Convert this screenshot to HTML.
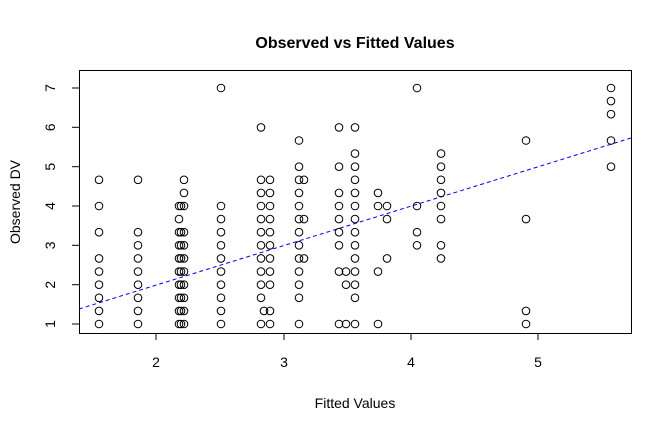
<!DOCTYPE html><html><head><style>body{margin:0;background:#fff}svg{display:block;font-family:"Liberation Sans",Arial,sans-serif}</style></head><body>
<svg id="s" width="672" height="432" xmlns="http://www.w3.org/2000/svg">
<text x="355" y="48" text-anchor="middle" font-size="16" font-weight="bold">Observed vs Fitted Values</text>
<rect x="79.5" y="70.5" width="552" height="263" fill="none" stroke="#000"/>
<g stroke="#000">
<line x1="156" y1="333" x2="156" y2="340"/><line x1="284" y1="333" x2="284" y2="340"/><line x1="411" y1="333" x2="411" y2="340"/><line x1="538" y1="333" x2="538" y2="340"/>
<line x1="72" y1="88" x2="79" y2="88"/><line x1="72" y1="127.3" x2="79" y2="127.3"/><line x1="72" y1="166.7" x2="79" y2="166.7"/><line x1="72" y1="206" x2="79" y2="206"/><line x1="72" y1="245.3" x2="79" y2="245.3"/><line x1="72" y1="284.7" x2="79" y2="284.7"/><line x1="72" y1="324" x2="79" y2="324"/>
</g>
<g font-size="14" text-anchor="middle">
<text x="156" y="367">2</text><text x="284" y="367">3</text><text x="411" y="367">4</text><text x="538" y="367">5</text>
<text transform="translate(55,88) rotate(-90)">7</text>
<text transform="translate(55,127.3) rotate(-90)">6</text>
<text transform="translate(55,166.7) rotate(-90)">5</text>
<text transform="translate(55,206) rotate(-90)">4</text>
<text transform="translate(55,245.3) rotate(-90)">3</text>
<text transform="translate(55,284.7) rotate(-90)">2</text>
<text transform="translate(55,324) rotate(-90)">1</text>
<text x="355" y="408">Fitted Values</text>
<text transform="translate(20,202) rotate(-90)">Observed DV</text>
</g>
<line x1="79" y1="309" x2="631" y2="138" stroke="#00f" stroke-dasharray="4,3"/>
<g id="p" fill="none" stroke="#000" stroke-width="1"></g>
</svg>
<script>
var d={
99:[14,12,10,8,7,6,5,4,3],
138:[14,10,9,8,7,6,5,4,3],
179:[12,11,10,9,8,7,6,5,4,3],
181:[12,10,9,8,7,6,5,4,3],
184:[14,13,12,10,9,8,7,6,5,4,3],
221:[21,12,11,10,9,8,7,6,5,4,3],
261:[18,14,13,12,11,10,9,8,7,6,5,3],
264:[4],
270:[14,13,12,11,10,9,8,7,6,4,3],
299:[17,15,14,13,12,11,10,9,8,7,6,5,3],
304:[14,11,8],
339:[18,15,13,12,11,10,9,7,3],
346:[7,6,3],
355:[18,16,15,14,13,12,11,10,9,8,7,6,5,3],
378:[13,12,7,3],
387:[12,11,8],
417:[21,12,10,9],
441:[16,15,14,13,12,11,9,8],
526:[17,11,4,3],
611:[21,20,19,17,15]};
var g=document.getElementById('p'),h='';
for(var x in d)d[x].forEach(function(k){var y=324-(k-3)*13.11;h+='<circle cx="'+x+'" cy="'+y.toFixed(1)+'" r="3.8"/>';});
g.innerHTML=h;
</script>
</body></html>
